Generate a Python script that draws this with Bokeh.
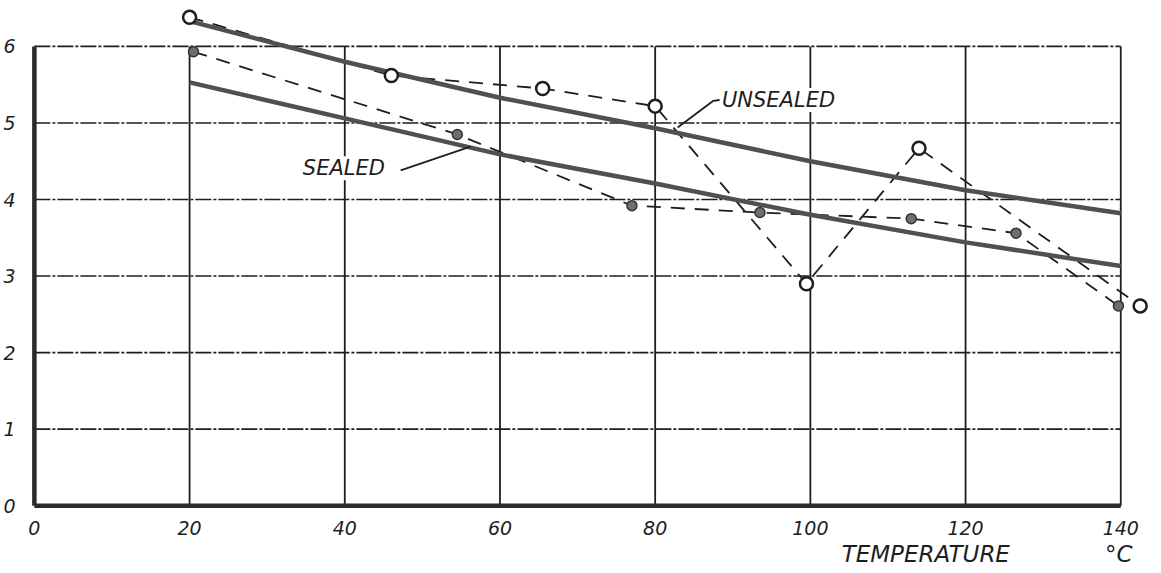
from bokeh.plotting import figure
from bokeh.models import Range1d, FixedTicker, Label, Title
from bokeh.embed import file_html
from bokeh.resources import INLINE

# ---- data ----
x_ticks = [0, 20, 40, 60, 80, 100, 120, 140]
y_ticks = [0, 1, 2, 3, 4, 5, 6]

unsealed_t = [20, 46, 65.5, 80, 99.5, 114, 142.5]
unsealed_v = [6.38, 5.62, 5.45, 5.22, 2.90, 4.67, 2.61]

sealed_t = [20.5, 54.5, 77, 93.5, 113, 126.5, 139.7]
sealed_v = [5.93, 4.85, 3.92, 3.83, 3.75, 3.56, 2.61]

fit_t = [20, 40, 60, 80, 100, 120, 140]
unsealed_fit = [6.33, 5.80, 5.33, 4.93, 4.50, 4.12, 3.82]
sealed_fit = [5.53, 5.06, 4.59, 4.21, 3.80, 3.44, 3.13]

FONT = "DejaVu Sans"
INK = "#1e1e1e"

p = figure(width=1161, height=573, output_backend="svg", toolbar_location=None,
           x_range=Range1d(-0.5, 145.25), y_range=Range1d(-0.05, 6.60),
           min_border_left=30, min_border_right=0, min_border_top=0,
           min_border_bottom=64)
p.outline_line_color = None
p.xgrid.visible = False
p.ygrid.visible = False
p.background_fill_color = "white"
p.border_fill_color = "white"

for ax in (p.xaxis[0], p.yaxis[0]):
    ax.axis_line_color = None
    ax.major_tick_line_color = None
    ax.minor_tick_line_color = None
    ax.major_label_text_font = FONT
    ax.major_label_text_font_style = "italic"
    ax.major_label_text_font_size = "19px"
    ax.major_label_text_color = INK
p.xaxis[0].ticker = FixedTicker(ticks=x_ticks)
p.yaxis[0].ticker = FixedTicker(ticks=y_ticks)
p.xaxis[0].major_label_standoff = 5
p.yaxis[0].major_label_standoff = 9
p.yaxis[0].major_label_text_baseline = "bottom"

xmin, xmax = x_ticks[0], x_ticks[-1]
ymin, ymax = y_ticks[0], y_ticks[-1]

# horizontal grid lines (dash-dot like the scan)
hy = y_ticks[1:]
p.segment(x0=[xmin] * len(hy), y0=hy, x1=[xmax] * len(hy), y1=hy,
          line_color=INK, line_width=1.6, line_dash="16 2 3 2")
# vertical grid lines
vx = x_ticks[1:]
p.segment(x0=vx, y0=[ymin] * len(vx), x1=vx, y1=[ymax] * len(vx),
          line_color=INK, line_width=1.8)
# thick axes lines
p.line([xmin, xmin], [ymin, ymax], line_color="#2a2a2a", line_width=4.5)
p.line([xmin, xmax], [ymin, ymin], line_color="#2a2a2a", line_width=4.5)

# dashed data lines
p.line(unsealed_t, unsealed_v, line_color=INK, line_width=1.8, line_dash="14 10")
p.line(sealed_t, sealed_v, line_color=INK, line_width=1.8, line_dash="14 10")

# fitted curves
p.line(fit_t, unsealed_fit, line_color="#505050", line_width=4.5)
p.line(fit_t, sealed_fit, line_color="#505050", line_width=4.5)

# markers
p.scatter(unsealed_t, unsealed_v, marker="circle", size=13, fill_color="white",
          line_color=INK, line_width=2.5)
p.scatter(sealed_t, sealed_v, marker="circle", size=10, fill_color="#6e6e6e",
          line_color="#333333", line_width=1.5)

# leader lines for the curve labels
p.line([82.9, 87.5, 88.3], [4.94, 5.29, 5.30], line_color=INK, line_width=1.8)
p.line([47.2, 56.2], [4.38, 4.69], line_color=INK, line_width=1.8)

def lab(x, y, text, size="21px"):
    return Label(x=x, y=y, text=text, text_font=FONT, text_font_style="italic",
                 text_font_size=size, text_color=INK, text_baseline="middle",
                 text_align="left", background_fill_color="white")

p.add_layout(lab(88.6, 5.30, "UNSEALED"))
p.add_layout(lab(34.6, 4.41, "SEALED"))

xlabel = Title(text="TEMPERATURE" + "\u00a0" * 13 + "°C", align="right",
               offset=29, text_font=FONT, text_font_style="italic",
               text_font_size="23px", text_color=INK, standoff=3)
p.add_layout(xlabel, "below")

open("out.html", "w").write(file_html(p, INLINE))
